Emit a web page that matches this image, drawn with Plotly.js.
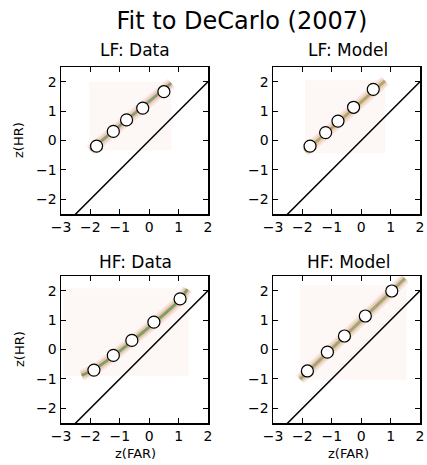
<!DOCTYPE html>
<html><head><meta charset="utf-8">
<script src="https://cdn.plot.ly/plotly-3.0.1.min.js"></script>
<style>html,body{margin:0;padding:0;background:#fff}#chart{width:427px;height:465px}</style>
</head><body><div id="chart"></div>
<script>
// Panel titles
const panelTitles = ['LF: Data', 'LF: Model', 'HF: Data', 'HF: Model'];
// Observed/model z-scores (z(FAR), z(HR))
const lfDataX = [-1.79, -1.22, -0.77, -0.22, 0.50];
const lfDataY = [-0.19, 0.31, 0.70, 1.10, 1.66];
const lfModelX = [-1.74, -1.21, -0.79, -0.26, 0.41];
const lfModelY = [-0.19, 0.27, 0.66, 1.13, 1.74];
const hfDataX = [-1.88, -1.22, -0.59, 0.16, 1.05];
const hfDataY = [-0.70, -0.20, 0.31, 0.93, 1.72];
const hfModelX = [-1.83, -1.15, -0.57, 0.14, 1.04];
const hfModelY = [-0.73, -0.09, 0.46, 1.14, 1.99];
// Posterior band (fitted zROC)
const lfDataBandX = [-2.00, 0.75];
const lfDataBandY = [-0.33, 1.95];
const lfModelBandX = [-1.91, 0.81];
const lfModelBandY = [-0.38, 2.03];
const hfDataBandX = [-2.30, -1.88, -1.22, -0.59, 0.16, 1.05, 1.30];
const hfDataBandY = [-0.88, -0.68, -0.22, 0.28, 0.90, 1.70, 2.05];
const hfModelBandX = [-2.08, 1.49];
const hfModelBandY = [-1.01, 2.42];
// Density image extents [min, max]
const lfDataBgX = [-2.04, 0.76], lfDataBgY = [-0.34, 2.00];
const lfModelBgX = [-1.91, 0.81], lfModelBgY = [-0.43, 2.05];
const hfDataBgX = [-2.92, 1.33], hfDataBgY = [-0.90, 2.08];
const hfModelBgX = [-2.08, 1.55], hfModelBgY = [-1.04, 2.19];
// Chance/identity line
const diagX = [-3, 2];
const diagY = [-3, 2];
// Ticks
const xTicks = [-3, -2, -1, 0, 1, 2];
const yTicks = [-2, -1, 0, 1, 2];

const panels = [
  {px: lfDataX, py: lfDataY, bx: lfDataBandX, by: lfDataBandY, gx: lfDataBgX, gy: lfDataBgY, core: 'rgba(70,135,55,0.6)', mid: 'rgba(220,150,140,0.35)'},
  {px: lfModelX, py: lfModelY, bx: lfModelBandX, by: lfModelBandY, gx: lfModelBgX, gy: lfModelBgY, core: 'rgba(120,140,60,0.55)', mid: 'rgba(225,165,110,0.35)'},
  {px: hfDataX, py: hfDataY, bx: hfDataBandX, by: hfDataBandY, gx: hfDataBgX, gy: hfDataBgY, core: 'rgba(60,130,55,0.6)', mid: 'rgba(200,150,95,0.35)'},
  {px: hfModelX, py: hfModelY, bx: hfModelBandX, by: hfModelBandY, gx: hfModelBgX, gy: hfModelBgY, core: 'rgba(115,130,65,0.55)', mid: 'rgba(195,165,110,0.35)'}
];

const traces = [];
panels.forEach((p, i) => {
  const xa = i === 0 ? 'x' : 'x' + (i + 1);
  const ya = i === 0 ? 'y' : 'y' + (i + 1);
  traces.push({x: [p.gx[0], p.gx[1], p.gx[1], p.gx[0], p.gx[0]], y: [p.gy[0], p.gy[0], p.gy[1], p.gy[1], p.gy[0]],
    xaxis: xa, yaxis: ya, mode: 'lines', fill: 'toself', fillcolor: 'rgb(253,248,245)', line: {width: 0}, hoverinfo: 'skip'});
  traces.push({x: p.bx, y: p.by, xaxis: xa, yaxis: ya, mode: 'lines', line: {color: 'rgba(235,185,175,0.35)', width: 11, shape: 'spline'}, hoverinfo: 'skip'});
  traces.push({x: p.bx, y: p.by, xaxis: xa, yaxis: ya, mode: 'lines', line: {color: p.mid, width: 7, shape: 'spline'}, hoverinfo: 'skip'});
  traces.push({x: p.bx, y: p.by, xaxis: xa, yaxis: ya, mode: 'lines', line: {color: p.core, width: 3, shape: 'spline'}, hoverinfo: 'skip'});
  traces.push({x: diagX, y: diagY, xaxis: xa, yaxis: ya, mode: 'lines', line: {color: '#000', width: 1.5}, hoverinfo: 'skip'});
  traces.push({x: p.px, y: p.py, xaxis: xa, yaxis: ya, mode: 'markers', cliponaxis: false,
    marker: {size: 12, color: '#fff', line: {color: '#000', width: 1.2}}});
});

const W = 427, H = 465;
const xd = [[61 / W, 208 / W], [273 / W, 420 / W]];
const yd = [[(H - 214) / H, (H - 67) / H], [(H - 423) / H, (H - 276) / H]];
const tickFont = {family: 'DejaVu Sans', size: 14, color: '#000'};
function xax(d, anchor) {
  return {domain: d, anchor: anchor, range: [-3, 2], tickvals: xTicks, ticks: 'inside', ticklen: 5, tickwidth: 1,
    tickcolor: '#000', showline: true, linecolor: '#000', linewidth: 1.5, mirror: 'ticks', showgrid: false,
    zeroline: false, tickfont: tickFont, fixedrange: true};
}
function yax(d, anchor) {
  return {domain: d, anchor: anchor, range: [-2.5, 2.5], tickvals: yTicks, ticks: 'inside', ticklen: 5, tickwidth: 1,
    tickcolor: '#000', showline: true, linecolor: '#000', linewidth: 1.5, mirror: 'ticks', showgrid: false,
    zeroline: false, tickfont: tickFont, fixedrange: true};
}

const layout = {
  width: W, height: H, showlegend: false,
  margin: {l: 0, r: 0, t: 0, b: 0},
  paper_bgcolor: '#fff', plot_bgcolor: 'rgba(0,0,0,0)',
  font: {family: 'DejaVu Sans', color: '#000'},
  title: {text: 'Fit to DeCarlo (2007)', font: {family: 'DejaVu Sans', size: 24, color: '#000'},
    x: 242 / W, xanchor: 'center', y: 1 - 21 / H, yanchor: 'middle', yref: 'container'},
  xaxis: xax(xd[0], 'y'), yaxis: yax(yd[0], 'x'),
  xaxis2: xax(xd[1], 'y2'), yaxis2: yax(yd[0], 'x2'),
  xaxis3: xax(xd[0], 'y3'), yaxis3: yax(yd[1], 'x3'),
  xaxis4: xax(xd[1], 'y4'), yaxis4: yax(yd[1], 'x4'),
  annotations: [
    {text: panelTitles[0], x: 135 / W, y: 1 - 50 / H},
    {text: panelTitles[1], x: 348 / W, y: 1 - 50 / H},
    {text: panelTitles[2], x: 135 / W, y: 1 - 262 / H},
    {text: panelTitles[3], x: 348 / W, y: 1 - 262 / H}
  ].map(a => Object.assign(a, {xref: 'paper', yref: 'paper', xanchor: 'center', yanchor: 'middle', showarrow: false,
      font: {family: 'DejaVu Sans', size: 17, color: '#000'}})).concat([
    {text: 'z(HR)', x: 19 / W, y: 1 - 140 / H, textangle: -90},
    {text: 'z(HR)', x: 19 / W, y: 1 - 349 / H, textangle: -90},
    {text: 'z(FAR)', x: 135 / W, y: 1 - 453 / H},
    {text: 'z(FAR)', x: 348 / W, y: 1 - 453 / H}
  ].map(a => Object.assign(a, {xref: 'paper', yref: 'paper', xanchor: 'center', yanchor: 'middle', showarrow: false,
      font: {family: 'DejaVu Sans', size: 13, color: '#000'}})))
};

Plotly.newPlot('chart', traces, layout, {staticPlot: true, displayModeBar: false});
</script>
</body></html>
